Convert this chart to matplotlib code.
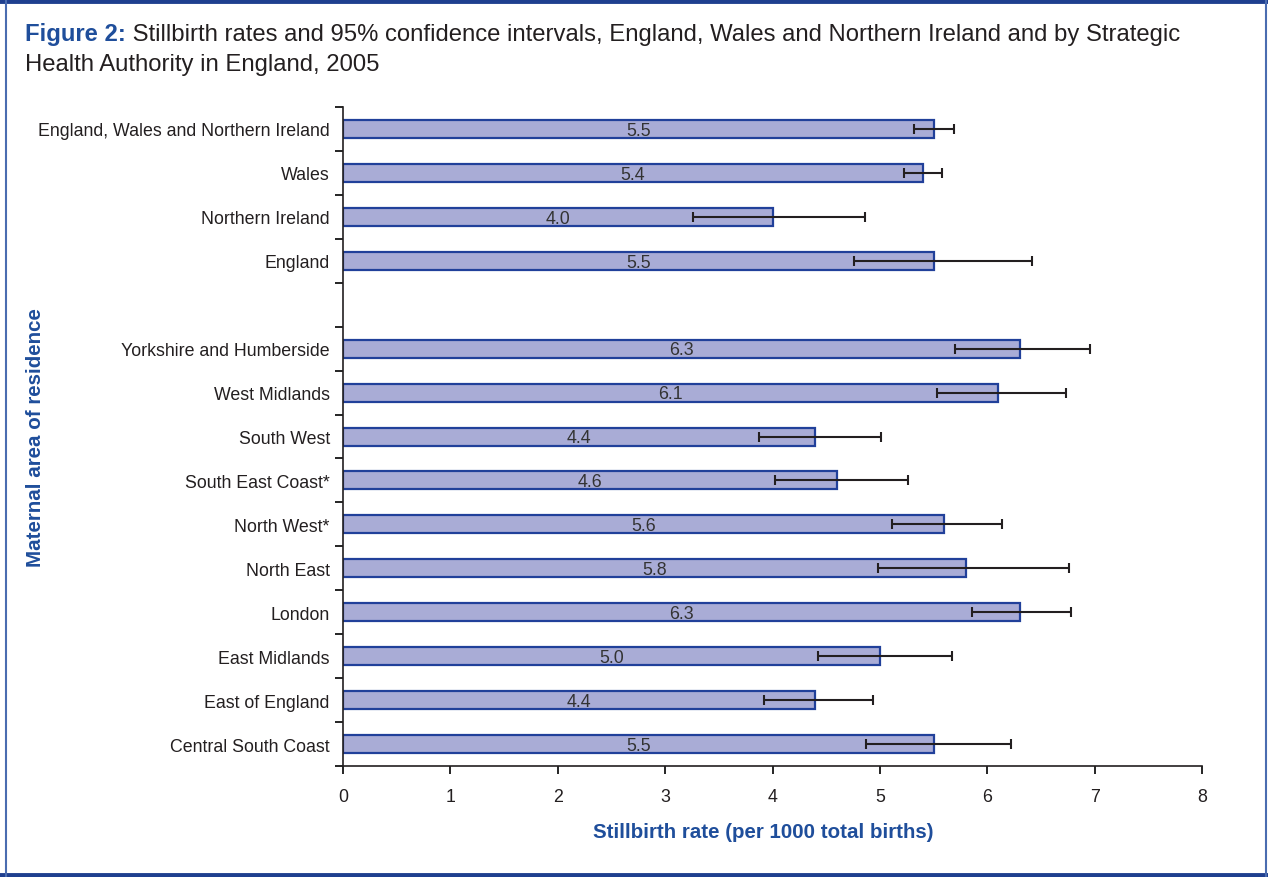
import numpy as np
import matplotlib.pyplot as plt
from matplotlib.lines import Line2D

plt.rcParams['font.family'] = ['Liberation Sans', 'DejaVu Sans']

# data (blank slot separates totals from SHAs)
areas = ['England, Wales and Northern Ireland', 'Wales', 'Northern Ireland', 'England', '',
         'Yorkshire and Humberside', 'West Midlands', 'South West', 'South East Coast*',
         'North West*', 'North East', 'London', 'East Midlands', 'East of England',
         'Central South Coast']
rates = [5.5, 5.4, 4.0, 5.5, np.nan, 6.3, 6.1, 4.4, 4.6, 5.6, 5.8, 6.3, 5.0, 4.4, 5.5]
ci_low = [5.32, 5.22, 3.26, 4.76, np.nan, 5.70, 5.53, 3.87, 4.02, 5.11, 4.98, 5.86, 4.42, 3.92, 4.87]
ci_high = [5.69, 5.58, 4.86, 6.42, np.nan, 6.96, 6.73, 5.01, 5.26, 6.14, 6.76, 6.78, 5.67, 4.94, 6.22]

blue = '#1f4e9b'
txt = '#231f20'

rates = np.array(rates)
lo = rates - np.array(ci_low)
hi = np.array(ci_high) - rates
ypos = np.arange(len(areas))

fig = plt.figure(figsize=(12.68, 8.78), dpi=100)
ax = fig.add_axes([0.2705, 0.1264, 0.6775, 0.7506])

ax.barh(ypos, rates, height=0.41, color='#a9acd6', edgecolor='#21409a', linewidth=1.6, zorder=2)
ax.errorbar(rates, ypos, xerr=[lo, hi], fmt='none', ecolor=txt, elinewidth=1.5,
            capsize=3.5, capthick=1.5, zorder=3)

for y, r in zip(ypos, rates):
    if not np.isnan(r):
        ax.text(r / 2, y + 0.03, f'{r:.1f}', ha='center', va='center', fontsize=12.8,
                color='#333333', zorder=4)

ax.set_xlim(0, 8)
ax.set_ylim(len(areas) - 0.5, -0.5)
ax.set_xticks(range(0, 9))
ax.tick_params(axis='x', direction='out', length=6, width=1.2, pad=10, labelsize=12.8, labelcolor=txt)
ax.set_yticks(ypos)
ax.set_yticklabels(areas)
ax.set_yticks(np.arange(-0.5, len(areas), 1), minor=True)
ax.tick_params(axis='y', which='major', length=0, pad=9.5, labelsize=12.8, labelcolor=txt)
ax.tick_params(axis='y', which='minor', direction='out', length=6, width=1.2)

for s in ['top', 'right']:
    ax.spines[s].set_visible(False)
for s in ['left', 'bottom']:
    ax.spines[s].set_linewidth(1.2)
    ax.spines[s].set_color(txt)

ax.set_xlabel('Stillbirth rate (per 1000 total births)', fontsize=14.8, fontweight='bold', color=blue)
ax.xaxis.set_label_coords(0.489, -0.1)
ax.xaxis.label.set_va('center')
ax.set_ylabel('Maternal area of residence', fontsize=14.8, fontweight='bold', color=blue)
ax.yaxis.set_label_coords(-0.358, 0.5)
ax.yaxis.label.set_va('center')

# title: bold blue lead-in followed by regular text
t1 = fig.text(25 / 1268, 1 - 35 / 878, 'Figure 2:', fontsize=17.2, fontweight='bold',
              color=blue, va='center')
fig.add_artist(plt.Annotation(' Stillbirth rates and 95% confidence intervals, England, Wales and '
                              'Northern Ireland and by Strategic', xy=(1, 0), xycoords=t1,
                              va='bottom', fontsize=17.2, color=txt))
fig.text(25 / 1268, 1 - 65 / 878, 'Health Authority in England, 2005', fontsize=17.2,
         color=txt, va='center')

# frame around the figure
fig.add_artist(Line2D([0, 1], [0.9975, 0.9975], transform=fig.transFigure, color='#1f3f8f', lw=3.5))
fig.add_artist(Line2D([0, 1], [0.0025, 0.0025], transform=fig.transFigure, color='#1f3f8f', lw=3.5))
fig.add_artist(Line2D([0.0045, 0.0045], [0, 1], transform=fig.transFigure, color='#4a6cb0', lw=1.5))
fig.add_artist(Line2D([0.9985, 0.9985], [0, 1], transform=fig.transFigure, color='#4a6cb0', lw=1.5))

fig.savefig('out.png', dpi=100)
